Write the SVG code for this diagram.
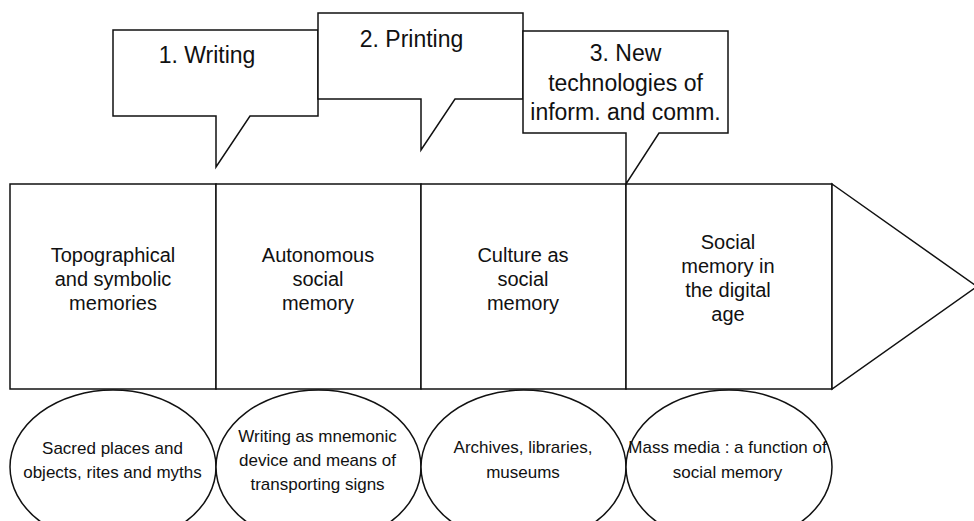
<svg xmlns="http://www.w3.org/2000/svg" width="974" height="521" viewBox="0 0 974 521">
<style>
.s{fill:#fff;stroke:#111;stroke-width:1.5;stroke-linejoin:miter}
.t{font-family:"Liberation Sans",Arial,Helvetica,sans-serif;fill:#111;text-anchor:middle}
.c{font-size:23px}
.b{font-size:20px}
.e{font-size:17px}
</style>
<rect width="974" height="521" fill="#fff"/>
<g id="connectors"></g>
<g id="box1"><rect class="s" x="10" y="184" width="206" height="205"/>
<text class="t b" x="113" y="262">Topographical</text><text class="t b" x="113" y="286">and symbolic</text><text class="t b" x="113" y="310">memories</text></g>
<g id="box2"><rect class="s" x="216" y="184" width="205" height="205"/>
<text class="t b" x="318" y="262">Autonomous</text><text class="t b" x="318" y="286">social</text><text class="t b" x="318" y="310">memory</text></g>
<g id="box3"><rect class="s" x="421" y="184" width="205" height="205"/>
<text class="t b" x="523" y="262">Culture as</text><text class="t b" x="523" y="286">social</text><text class="t b" x="523" y="310">memory</text></g>
<g id="box4"><rect class="s" x="626" y="184" width="206" height="205"/>
<text class="t b" x="728" y="249">Social</text><text class="t b" x="728" y="273">memory in</text><text class="t b" x="728" y="297">the digital</text><text class="t b" x="728" y="321">age</text></g>
<g id="arrowhead"><polygon class="s" points="832,184 977,286.5 832,389"/></g>
<g id="callout1"><path class="s" d="M113,30 H318 V116 H250 L216,167 V116 H113 Z"/>
<text class="t c" x="207" y="63">1. Writing</text></g>
<g id="callout2"><path class="s" d="M318,13 H523 V99 H455 L421,150 V99 H318 Z"/>
<text class="t c" x="411.5" y="47">2. Printing</text></g>
<g id="callout3"><path class="s" d="M523,31 H728 V133 H659 L626,184 V133 H523 Z"/>
<text class="t c" x="625.5" y="61">3. New</text><text class="t c" x="625.5" y="90.5">technologies of</text><text class="t c" x="625.5" y="120">inform. and comm.</text></g>
<g id="ellipse1"><ellipse class="s" cx="113" cy="467" rx="103" ry="77"/>
<text class="t e" x="112.5" y="454">Sacred places and</text><text class="t e" x="112.5" y="478">objects, rites and myths</text></g>
<g id="ellipse2"><ellipse class="s" cx="318.5" cy="467" rx="102.5" ry="77"/>
<text class="t e" x="317.5" y="442">Writing as mnemonic</text><text class="t e" x="317.5" y="466">device and means of</text><text class="t e" x="317.5" y="490">transporting signs</text></g>
<g id="ellipse3"><ellipse class="s" cx="523.5" cy="467" rx="102.5" ry="77"/>
<text class="t e" x="523" y="453">Archives, libraries,</text><text class="t e" x="523" y="478">museums</text></g>
<g id="ellipse4"><ellipse class="s" cx="729" cy="467" rx="103" ry="77"/>
<text class="t e" x="727.5" y="453">Mass media : a function of</text><text class="t e" x="727.5" y="478">social memory</text></g>
</svg>
